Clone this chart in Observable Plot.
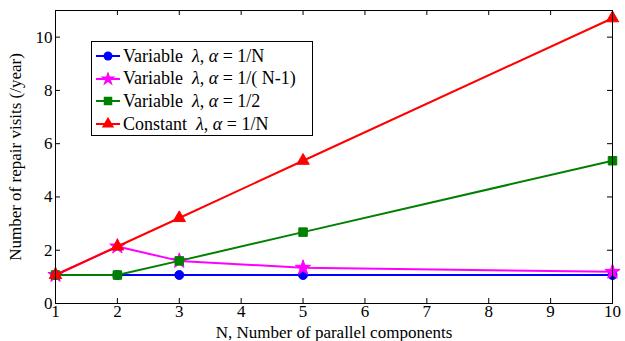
<!DOCTYPE html>
<html><head><meta charset="utf-8">
<script src="https://cdn.jsdelivr.net/npm/d3@7"></script>
<script src="https://cdn.jsdelivr.net/npm/@observablehq/plot@0.6"></script>
<style>
body{margin:0;background:#fff;}
#wrap{position:relative;width:625px;height:341px;font-family:"Liberation Serif","Times New Roman",serif;}
#legend{position:absolute;left:91px;top:41px;width:222px;height:95px;border:1px solid #000;background:#fff;box-sizing:border-box;}
.item{position:absolute;left:3px;height:22px;display:flex;align-items:center;font-size:18px;white-space:pre;color:#000}
.item svg{margin-right:2px}
</style></head><body><div id="wrap"><div id="legend"></div></div>
<script>
const N = [1, 2, 3, 5, 10];
const seriesNames = [
  "Variable  λ, α = 1/N",
  "Variable  λ, α = 1/( N-1)",
  "Variable  λ, α = 1/2",
  "Constant  λ, α = 1/N"
];
const variableInvN = [1.07, 1.07, 1.07, 1.07, 1.07];
const variableInvNm1 = [1.07, 2.14, 1.60, 1.34, 1.19];
const variableHalf = [1.07, 1.07, 1.60, 2.68, 5.36];
const constantInvN = [1.07, 2.14, 3.21, 5.36, 10.71];
const xTicks = [1, 2, 3, 4, 5, 6, 7, 8, 9, 10];
const yTicks = [0, 2, 4, 6, 8, 10];

const styles = [
  {color: "#0000ff", symbol: "circle", r: 4.5},
  {color: "#ff00ff", symbol: "star", r: 4.8},
  {color: "#008000", symbol: "square", r: 4.8},
  {color: "#ff0000", symbol: "triangle", r: 4.6}
];
const valuesList = [variableInvN, variableInvNm1, variableHalf, constantInvN];

const W = 625, H = 341;
const mL = 55, mR = 13, mT = 10, mB = 38;
const pw = W - mL - mR, ph = H - mT - mB;
const FS = 17;

const marks = [];
valuesList.forEach((vals, i) => {
  const data = N.map((n, j) => ({n, v: vals[j]}));
  const s = styles[i];
  marks.push(Plot.line(data, {x: "n", y: "v", stroke: s.color, strokeWidth: 2}));
  marks.push(Plot.dot(data, {x: "n", y: "v", symbol: () => s.symbol, fill: s.color, stroke: s.color, strokeWidth: 1, r: s.r}));
});

const chart = Plot.plot({
  width: W, height: H,
  marginLeft: mL, marginRight: mR, marginTop: mT, marginBottom: mB,
  style: {fontFamily: '"Liberation Serif","Times New Roman",serif', fontSize: FS + "px", background: "#fff", color: "#000"},
  x: {domain: [1, 10]},
  y: {domain: [0, 11]},
  marks: [
    Plot.tickX(xTicks, {x: d => d, stroke: "#000", insetTop: ph - 5}),
    Plot.tickX(xTicks, {x: d => d, stroke: "#000", insetBottom: ph - 5}),
    Plot.tickY(yTicks, {y: d => d, stroke: "#000", insetRight: pw - 5}),
    Plot.tickY(yTicks, {y: d => d, stroke: "#000", insetLeft: pw - 5}),
    Plot.axisX({ticks: xTicks, tickSize: 0, tickPadding: 1, fontSize: FS, fontFamily: '"Liberation Serif",serif', tickFormat: d => String(d), label: "N, Number of parallel components", labelAnchor: "center", labelArrow: "none", labelOffset: 34}),
    Plot.axisY({ticks: yTicks, tickSize: 0, tickPadding: 3, fontSize: FS, fontFamily: '"Liberation Serif",serif', tickFormat: d => String(d), label: "Number of repair visits (/year)", labelAnchor: "center", labelArrow: "none", labelOffset: 47}),
    ...marks,
    Plot.frame({stroke: "#000", strokeWidth: 1})
  ]
});
document.getElementById("wrap").prepend(chart);

const legend = document.getElementById("legend");
seriesNames.forEach((name, i) => {
  const s = styles[i];
  const item = document.createElement("div");
  item.className = "item";
  item.style.top = (3 + i * 22.7) + "px";
  const sym = d3.symbol().type({circle: d3.symbolCircle, star: d3.symbolStar, square: d3.symbolSquare, triangle: d3.symbolTriangle}[s.symbol]).size(Math.PI * s.r * s.r)();
  const parts = name.split(/(λ|α)/).map(p => (p === "λ" || p === "α") ? `<i>${p}</i>` : p);
  item.innerHTML = `<svg width="26" height="14"><line x1="1" x2="25" y1="7" y2="7" stroke="${s.color}" stroke-width="2"/><path d="${sym}" transform="translate(13,7)" fill="${s.color}"/></svg><span>${parts.join("")}</span>`;
  legend.appendChild(item);
});
</script></body></html>
